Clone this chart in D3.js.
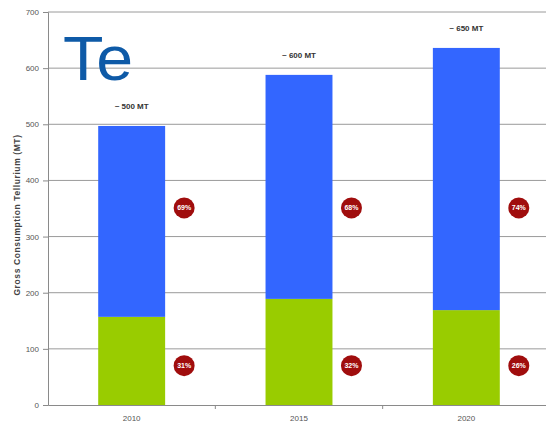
<!DOCTYPE html>
<html>
<head>
<meta charset="utf-8">
<script src="https://cdn.jsdelivr.net/npm/d3@7"></script>
<style>
  html, body { margin: 0; padding: 0; background: #fff; }
  svg { display: block; font-family: "Liberation Sans", Arial, sans-serif; }
</style>
</head>
<body>
<svg id="chart" width="546" height="428"></svg>
<script>
// Tellurium gross consumption by year, split into two segments (MT)
const years = ["2010", "2015", "2020"];
const lowerValues = [157, 189, 169];   // green segment
const upperValues = [340, 399, 467];   // blue segment, stacked on green
const totalLabels = ["~ 500 MT", "~ 600 MT", "~ 650 MT"];
const upperShare = ["69%", "68%", "74%"];
const lowerShare = ["31%", "32%", "26%"];
const yTicks = [0, 100, 200, 300, 400, 500, 600, 700];

const svg = d3.select("#chart");
const margin = { left: 48, right: -4, top: 12, bottom: 23 };
const W = 546, H = 428;
const innerW = W - margin.left - margin.right;
const innerH = H - margin.top - margin.bottom;

const g = svg.append("g").attr("transform", `translate(${margin.left},${margin.top})`);

const x = d3.scaleBand().domain(years).range([0, innerW]).paddingInner(0.6).paddingOuter(0.3);
const y = d3.scaleLinear().domain([0, 700]).range([innerH, 0]);

// horizontal grid lines
g.append("g").selectAll("line").data(yTicks.slice(1)).join("line")
  .attr("x1", 0).attr("x2", innerW)
  .attr("y1", d => y(d)).attr("y2", d => y(d))
  .attr("stroke", "#9a9a9a").attr("stroke-width", 1);

// y axis
const yAxis = g.append("g")
  .call(d3.axisLeft(y).tickValues(yTicks).tickSize(5).tickPadding(4).tickFormat(d3.format("d")));
yAxis.select(".domain").attr("stroke", "#8a8a8a");
yAxis.selectAll(".tick line").attr("stroke", "#8a8a8a");
yAxis.selectAll("text").attr("fill", "#555").attr("font-size", 8);

const stacks = years.map((yr, i) => ({
  year: yr, lower: lowerValues[i], upper: upperValues[i], total: lowerValues[i] + upperValues[i], i
}));

// green segments
g.append("g").selectAll("rect").data(stacks).join("rect")
  .attr("x", d => x(d.year)).attr("width", x.bandwidth())
  .attr("y", d => y(d.lower)).attr("height", d => y(0) - y(d.lower))
  .attr("fill", "#99cc00");

// blue segments
g.append("g").selectAll("rect").data(stacks).join("rect")
  .attr("x", d => x(d.year)).attr("width", x.bandwidth())
  .attr("y", d => y(d.total)).attr("height", d => y(d.lower) - y(d.total))
  .attr("fill", "#3366ff");

// x axis
const xAxis = g.append("g").attr("transform", `translate(0,${innerH})`)
  .call(d3.axisBottom(x).tickSize(0).tickPadding(10));
xAxis.select(".domain").attr("stroke", "#8a8a8a");
xAxis.selectAll("text").attr("fill", "#555").attr("font-size", 8);
// tick marks between categories
const step = x.step();
g.append("g").selectAll("line").data([1, 2]).join("line")
  .attr("x1", d => x(years[d]) - (step - x.bandwidth()) / 2)
  .attr("x2", d => x(years[d]) - (step - x.bandwidth()) / 2)
  .attr("y1", innerH).attr("y2", innerH + 4)
  .attr("stroke", "#8a8a8a");

// total labels above bars
g.append("g").selectAll("text").data(stacks).join("text")
  .attr("x", d => x(d.year) + x.bandwidth() / 2)
  .attr("y", d => y(d.total) - 17)
  .attr("text-anchor", "middle")
  .attr("font-size", 8).attr("font-weight", "bold").attr("fill", "#333")
  .text(d => totalLabels[d.i]);

// share badges beside each bar, in two fixed rows (upper and lower segment)
const badgeX = d => x(d.year) + x.bandwidth() + 19;
const badgeRows = [
  { level: 351, text: d => upperShare[d.i] },
  { level: 70, text: d => lowerShare[d.i] }
];
badgeRows.forEach(row => {
  const bg = g.append("g").selectAll("g").data(stacks).join("g")
    .attr("transform", d => `translate(${badgeX(d)},${y(row.level)})`);
  bg.append("circle").attr("r", 10.5).attr("fill", "#a00d0d");
  bg.append("text").attr("text-anchor", "middle").attr("dy", "0.35em")
    .attr("font-size", 7).attr("font-weight", "bold").attr("fill", "#fff")
    .text(row.text);
});

// y axis title
svg.append("text")
  .attr("transform", "translate(20,215) rotate(-90)")
  .attr("text-anchor", "middle")
  .attr("font-size", 8.5).attr("font-weight", "bold").attr("fill", "#444")
  .attr("letter-spacing", 0.6)
  .text("Gross Consumption Tellurium (MT)");

// element symbol
svg.append("text")
  .attr("x", 63).attr("y", 80)
  .attr("font-size", 63).attr("fill", "#0e5aa7")
  .attr("textLength", 70).attr("lengthAdjust", "spacingAndGlyphs")
  .text("Te");
</script>
</body>
</html>
